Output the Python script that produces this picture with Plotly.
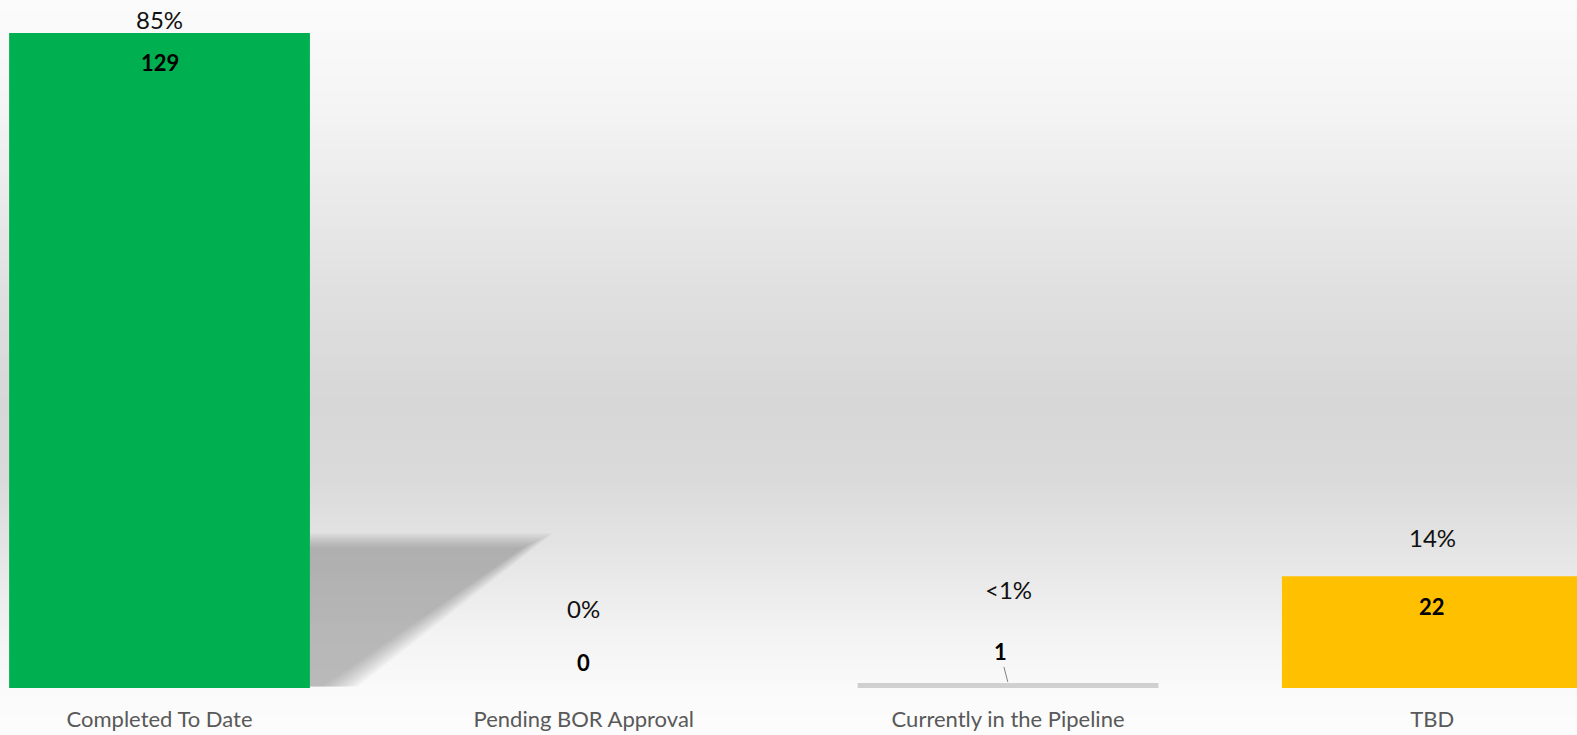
import plotly.graph_objects as go

categories = ["Completed To Date", "Pending BOR Approval", "Currently in the Pipeline", "TBD"]
values = [129, 0, 1, 22]
pct_labels = ["85%", "0%", "<1%", "14%"]
bar_colors = ["#00AF50", "rgba(0,0,0,0)", "#D0D0D0", "#FFC000"]

# label offsets (pixels) relative to bar top
pct_shift = [14, 80, 93, 39]
val_shift = [-29.5, 26, 0, -30]

W, H = 1577, 735
FONT = "Lato, Open Sans, sans-serif"
fig = go.Figure()

fig.add_trace(go.Bar(
    x=list(range(len(categories))), y=values,
    marker=dict(color=bar_colors, line=dict(width=0)),
    width=0.709, hoverinfo="skip", showlegend=False,
))

plot_h = 688
shapes = []
# vertical background gradient (paper coords over whole figure)
stops = [(0, 251), (100, 245), (200, 234), (300, 223), (400, 215), (480, 218),
         (560, 230), (640, 244), (700, 251), (735, 252)]
def col_at(py):
    for (y0, c0), (y1, c1) in zip(stops[:-1], stops[1:]):
        if y0 <= py <= y1:
            t = (py - y0) / (y1 - y0)
            return round(c0 + (c1 - c0) * t)
    return stops[-1][1]
step = 5
for py in range(0, H, step):
    c = col_at(py + step / 2)
    shapes.append(dict(type="rect", xref="paper", yref="paper",
                       x0=-0.01, x1=1.01,
                       y0=1 - (py + step) / plot_h, y1=1 - py / plot_h,
                       fillcolor=f"rgb({c},{c},{c})", line=dict(width=0), layer="below"))

# soft shadow behind the first bar (layers shrink inward for a blurred edge)
n = 10
for i in range(n):
    d = (n - 1 - i)  # outer layers first
    top = 27.6 + d * 0.32
    tip = 0.855 + d * 0.008
    bot = 0.385 + d * 0.009
    shapes.append(dict(type="path", xref="x", yref="y",
                       path=f"M 0.354 0.3 L 0.354 {top} L {tip} {top} L {bot} 0.3 Z",
                       fillcolor="rgba(120,120,120,0.058)", line=dict(width=0), layer="below"))

annotations = []
for i, (v, p) in enumerate(zip(values, pct_labels)):
    annotations.append(dict(x=i, y=v, text=p, showarrow=False, yshift=pct_shift[i],
                            font=dict(family=FONT, size=24, color="#111111"),
                            yanchor="middle"))
    if i == 2:
        annotations.append(dict(x=i, y=v, text=f"<b>{v}</b>", showarrow=True, arrowhead=0,
                                arrowwidth=1, arrowcolor="#7f7f7f", ax=-8, ay=-31, standoff=1,
                                font=dict(family=FONT, size=22, color="#000000")))
    else:
        annotations.append(dict(x=i, y=v, text=f"<b>{v}</b>", showarrow=False, yshift=val_shift[i],
                                font=dict(family=FONT, size=22, color="#000000"),
                                yanchor="middle"))

fig.update_layout(
    width=W, height=H,
    margin=dict(l=0, r=0, t=0, b=H - plot_h),
    paper_bgcolor="#fcfcfc", plot_bgcolor="rgba(0,0,0,0)",
    shapes=shapes, annotations=annotations,
    xaxis=dict(range=[-0.376, 3.341], tickmode="array", tickvals=list(range(len(categories))),
               ticktext=categories, showgrid=False, zeroline=False, showline=False, ticks="",
               tickfont=dict(family=FONT, size=22, color="#595959"),
               ticklabelstandoff=16, fixedrange=True),
    yaxis=dict(range=[0, 135.5], visible=False, fixedrange=True),
)

post = """
document.documentElement.style.margin='0';
document.documentElement.style.overflow='hidden';
document.body.style.margin='0';
document.body.style.overflow='hidden';
var gd=document.getElementById('{plot_id}');
gd.style.position='fixed'; gd.style.left='0px'; gd.style.top='0px';
"""
fig.write_html("out.html", config={"displayModeBar": False}, post_script=post)
